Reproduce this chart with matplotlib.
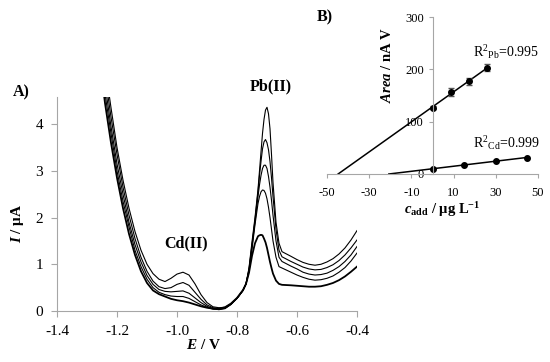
import matplotlib
matplotlib.use("Agg")
import matplotlib.pyplot as plt
import numpy as np

plt.rcParams['font.family'] = ['Liberation Serif', 'DejaVu Serif']
plt.rcParams['axes.unicode_minus'] = False
plt.rcParams['mathtext.fontset'] = 'custom'
plt.rcParams['mathtext.rm'] = 'Liberation Serif'
plt.rcParams['mathtext.it'] = 'Liberation Serif:italic'
plt.rcParams['mathtext.bf'] = 'Liberation Serif:bold'
plt.rcParams['mathtext.bfit'] = 'Liberation Serif:italic:bold'

# A) voltammograms (E / V, I / uA), blank + 4 additions
E = [-1.26, -1.24, -1.22, -1.20, -1.18, -1.16, -1.14, -1.12, -1.10, -1.08,
     -1.06, -1.04, -1.02, -1.00, -0.98, -0.96, -0.94, -0.92, -0.90, -0.88,
     -0.86, -0.84, -0.82, -0.80, -0.78, -0.77, -0.76, -0.75, -0.74, -0.73,
     -0.725, -0.72, -0.715, -0.71, -0.705, -0.70, -0.695, -0.69, -0.685, -0.68,
     -0.67, -0.66, -0.65, -0.62, -0.60,
     -0.58, -0.56, -0.54, -0.52, -0.50, -0.48, -0.46, -0.44, -0.42, -0.40]

i_blank = [5.5, 4.45, 3.6, 2.85, 2.2, 1.65, 1.2, 0.85, 0.6, 0.44,
           0.36, 0.31, 0.26, 0.23, 0.21, 0.18, 0.14, 0.10, 0.07, 0.05,
           0.05, 0.08, 0.16, 0.28, 0.45, 0.58, 0.82, 1.18, 1.45, 1.6,
           1.62, 1.63, 1.62, 1.55, 1.47, 1.35, 1.2, 1.05, 0.92, 0.8,
           0.65, 0.58, 0.56, 0.55, 0.54,
           0.53, 0.52, 0.52, 0.53, 0.56, 0.60, 0.66, 0.74, 0.84, 0.95]
i_add1 = [5.7, 4.65, 3.8, 3.0, 2.35, 1.8, 1.3, 0.95, 0.68, 0.5,
          0.4, 0.35, 0.32, 0.31, 0.31, 0.27, 0.2, 0.13, 0.08, 0.04,
          0.03, 0.06, 0.15, 0.27, 0.44, 0.58, 0.85, 1.32, 1.85, 2.3,
          2.45, 2.55, 2.59, 2.58, 2.52, 2.4, 2.22, 2.0, 1.75, 1.5,
          1.15, 0.95, 0.92, 0.83, 0.77,
          0.72, 0.68, 0.66, 0.67, 0.70, 0.75, 0.83, 0.93, 1.07, 1.24]
i_add2 = [5.9, 4.85, 3.95, 3.15, 2.5, 1.9, 1.42, 1.05, 0.76, 0.57,
          0.46, 0.42, 0.41, 0.42, 0.43, 0.38, 0.28, 0.18, 0.10, 0.05,
          0.03, 0.05, 0.14, 0.27, 0.44, 0.58, 0.87, 1.38, 1.9, 2.45,
          2.7, 2.9, 3.05, 3.12, 3.12, 3.05, 2.88, 2.65, 2.37, 2.05,
          1.5, 1.15, 1.06, 0.96, 0.9,
          0.83, 0.79, 0.77, 0.78, 0.81, 0.87, 0.95, 1.06, 1.2, 1.38]
i_add3 = [6.1, 5.05, 4.15, 3.35, 2.65, 2.05, 1.55, 1.15, 0.85, 0.64,
          0.52, 0.48, 0.5, 0.57, 0.61, 0.55, 0.4, 0.25, 0.13, 0.07,
          0.05, 0.06, 0.14, 0.27, 0.44, 0.58, 0.9, 1.42, 1.95, 2.55,
          2.9, 3.2, 3.47, 3.62, 3.67, 3.6, 3.45, 3.2, 2.85, 2.45,
          1.75, 1.3, 1.16, 1.06, 1.0,
          0.94, 0.90, 0.88, 0.89, 0.93, 0.99, 1.08, 1.2, 1.35, 1.52]
i_add4 = [6.3, 5.25, 4.35, 3.5, 2.8, 2.2, 1.7, 1.3, 1.0, 0.8,
          0.68, 0.63, 0.7, 0.79, 0.83, 0.77, 0.58, 0.35, 0.18, 0.09,
          0.07, 0.08, 0.15, 0.27, 0.44, 0.58, 0.92, 1.48, 2.0, 2.6,
          3.0, 3.4, 3.8, 4.1, 4.3, 4.36, 4.22, 3.9, 3.35, 2.75,
          1.9, 1.45, 1.27, 1.17, 1.10,
          1.04, 1.00, 0.98, 1.00, 1.05, 1.12, 1.22, 1.35, 1.52, 1.72]

# B) standard addition plot
c_pb = [0, 9, 17.5, 26]
area_pb = [127, 157, 177, 203]
err_pb = [3, 7, 7, 7]
c_cd = [0, 15, 30, 45]
area_cd = [9.5, 18, 24.5, 31.5]

grey = '#a6a6a6'

fig = plt.figure(figsize=(5.5, 3.62), dpi=100)

# ---- panel A
axA = fig.add_axes([57/550, 1-311/362, 300/550, 214/362])
for ii, lw in zip([i_blank, i_add1, i_add2, i_add3, i_add4], [1.3, 0.8, 0.8, 0.8, 0.8]):
    axA.plot(E, ii, color='black', lw=lw, solid_joinstyle='round')
axA.set_xlim(-1.4, -0.4)
axA.set_ylim(0, 4.58)
axA.set_xticks([-1.4, -1.2, -1.0, -0.8, -0.6, -0.4])
axA.set_xticklabels(['-1.4', '-1.2', '-1.0', '-0.8', '-0.6', '-0.4'])
axA.set_yticks([0, 1, 2, 3, 4])
for s in ['top', 'right']:
    axA.spines[s].set_visible(False)
for s in ['left', 'bottom']:
    axA.spines[s].set_color(grey)
axA.tick_params(direction='out', length=4, color=grey, labelsize=11, pad=6)

fig.text(21/550, 1-92/362, 'A)', fontsize=11.5, fontweight='bold', ha='center', va='center')
fig.text(271/550, 1-86/362, 'Pb(II)', fontsize=11.5, fontweight='bold', ha='center', va='center')
fig.text(186/550, 1-243/362, 'Cd(II)', fontsize=11.5, fontweight='bold', ha='center', va='center')
fig.text(18/550, 1-223/362, r'$\mathbfit{I}$ / μA', fontsize=11, fontweight='bold',
         rotation=90, ha='center', va='center')
fig.text(203/550, 1-345/362, r'$\mathbfit{E}$ / V', fontsize=11, fontweight='bold',
         ha='center', va='center')

# ---- panel B
axB = fig.add_axes([327/550, 1-174/362, 211/550, 157/362])
for xs, ys in [(c_pb, area_pb), (c_cd, area_cd)]:
    k, b = np.polyfit(xs, ys, 1)
    xx = np.array([-b / k, max(xs)])
    axB.plot(xx, k * xx + b, color='black', lw=1.1)
axB.errorbar(c_pb, area_pb, yerr=err_pb, fmt='o', color='black', ms=4,
             elinewidth=0.8, capsize=2, ecolor='#555555')
axB.plot(c_cd, area_cd, 'o', color='black', ms=4)
axB.set_xlim(-50, 50)
axB.set_ylim(0, 300)
axB.set_xticks([-50, -30, -10, 10, 30, 50])
axB.set_yticks([0, 100, 200, 300])
axB.spines['left'].set_position(('data', 0))
for s in ['top', 'right']:
    axB.spines[s].set_visible(False)
for s in ['left', 'bottom']:
    axB.spines[s].set_color(grey)
axB.tick_params(direction='out', length=3, color=grey, labelsize=9)
axB.tick_params(axis='x', pad=6)
axB.tick_params(axis='y', pad=3)

fig.text(325/550, 1-17/362, 'B)', fontsize=11.5, fontweight='bold', ha='center', va='center')
fig.text(387/550, 1-65/362, r'$\mathbfit{Area}$ / nA V', fontsize=10.5, fontweight='bold',
         rotation=90, ha='center', va='center')
fig.text(442/550, 1-210/362, r'$\mathbfit{c}_{\mathbf{add}}$ / μg L$^{\mathbf{-1}}$',
         fontsize=10.5, fontweight='bold', ha='center', va='center')
fig.text(473/550, 1-52/362, r'R$^{2}$$_{\mathrm{Pb}}$=0.995', fontsize=10, ha='left', va='center')
fig.text(473/550, 1-143/362, r'R$^{2}$$_{\mathrm{Cd}}$=0.999', fontsize=10, ha='left', va='center')

fig.savefig('out.png', dpi=100)
